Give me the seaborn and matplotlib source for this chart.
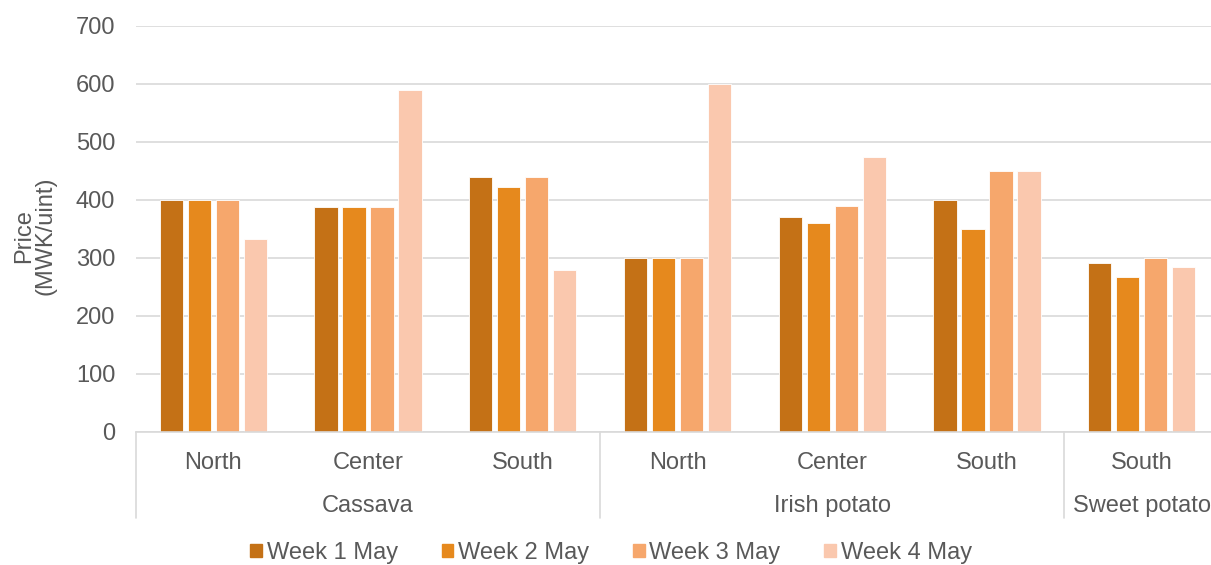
import matplotlib
matplotlib.use("Agg")
import matplotlib.pyplot as plt
import matplotlib.transforms as mtransforms
import seaborn as sns
import pandas as pd

crops = ["Cassava", "Cassava", "Cassava", "Irish potato", "Irish potato", "Irish potato", "Sweet potato"]
regions = ["North", "Center", "South", "North", "Center", "South", "South"]
weeks = ["Week 1 May", "Week 2 May", "Week 3 May", "Week 4 May"]
week1 = [400, 388, 440, 300, 370, 400, 292]
week2 = [400, 388, 422, 300, 360, 350, 267]
week3 = [400, 388, 440, 300, 390, 450, 300]
week4 = [332, 590, 280, 600, 475, 450, 284]
colors = ["#C47116", "#E6891D", "#F6A76C", "#FAC8AE"]

sns.set_theme(style="white")
plt.rcParams["font.family"] = ["Liberation Sans", "DejaVu Sans"]

keys = [f"{c}|{r}|{i}" for i, (c, r) in enumerate(zip(crops, regions))]
rows = []
for wk, vals in zip(weeks, [week1, week2, week3, week4]):
    for k, v in zip(keys, vals):
        rows.append({"key": k, "week": wk, "price": v})
df = pd.DataFrame(rows)

fig = plt.figure(figsize=(12.11, 5.65), dpi=100)
W, H = 1211, 565
left, right, top, bottom = 136, 1219, 26, 432
ax = fig.add_axes([left / W, 1 - bottom / H, (right - left) / W, (bottom - top) / H])

sns.barplot(data=df, x="key", y="price", hue="week", order=keys, hue_order=weeks,
            palette=colors, saturation=1, width=0.724, gap=0.17, ax=ax, legend=False,
            edgecolor="#FFFFFF", linewidth=0.6)

ax.set_xlim(-0.5, len(keys) - 0.5)
ax.set_ylim(0, 700)
ax.set_yticks(range(0, 701, 100))
ax.yaxis.grid(True, color="#D9D9D9", linewidth=1.2)
ax.set_axisbelow(True)
for s in ["top", "right", "left"]:
    ax.spines[s].set_visible(False)
ax.spines["bottom"].set_color("#D9D9D9")
ax.spines["bottom"].set_linewidth(1.2)

txtcol = "#595959"
fs = 17
ax.tick_params(axis="y", length=0, pad=15, labelsize=fs, labelcolor=txtcol)
ax.set_xticks(range(len(keys)))
ax.set_xticklabels(regions)
ax.tick_params(axis="x", length=0, pad=14.5, labelsize=fs, labelcolor=txtcol)
ax.set_xlabel("")
ax.set_ylabel("Price\n(MWK/uint)", fontsize=fs, color=txtcol, linespacing=1.0)
ax.yaxis.set_label_coords(-(136 - 57) / (right - left), (432 - 236) / (bottom - top))

trans = mtransforms.blended_transform_factory(ax.transData, ax.transAxes)
axis_h = (bottom - top)
sep_bottom = -(518 - bottom) / axis_h
group_y = -(506 - bottom) / axis_h
groups = []
for i, c in enumerate(crops):
    if not groups or groups[-1][0] != c:
        groups.append([c, i, i])
    else:
        groups[-1][2] = i
bounds = set()
for c, s, e in groups:
    bounds.add(s - 0.5)
    bounds.add(e + 0.5)
    ax.text((s + e) / 2, group_y, c, transform=trans, ha="center", va="center",
            fontsize=fs, color=txtcol)
for b in sorted(bounds):
    ax.plot([b, b], [0, sep_bottom], transform=trans, color="#D9D9D9",
            linewidth=1.2, clip_on=False)

handles = [plt.Rectangle((0, 0), 1, 1, color=c) for c in colors]
fig.legend(handles, weeks, loc="center", bbox_to_anchor=(611 / W, 1 - 553 / H),
           ncol=4, frameon=False, fontsize=fs, labelcolor=txtcol,
           handlelength=0.5, handleheight=0.5, handletextpad=0.2, columnspacing=1.85)

fig.savefig("out.png", dpi=100)
